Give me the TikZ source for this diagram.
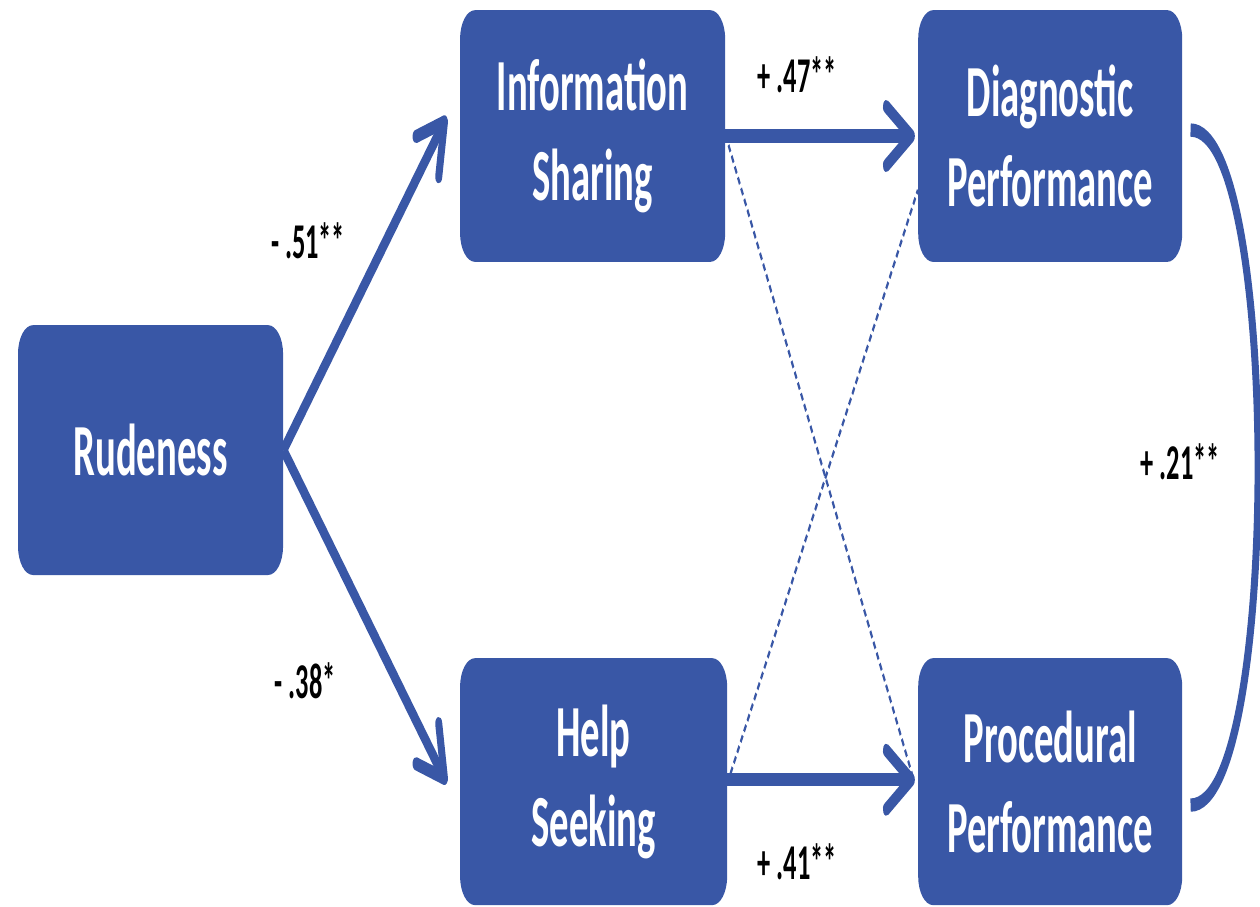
\documentclass[tikz,border=0pt]{standalone}
\usepackage{fontspec}
\setmainfont{Carlito}
\usetikzlibrary{arrows.meta}
\definecolor{boxblue}{RGB}{57,87,166}
\tikzset{
  box/.style={draw=none, fill=boxblue, rounded corners=0.3cm, text=white,
    font=\bfseries\fontsize{22}{26.9}\selectfont, align=center, inner sep=0pt},
  conn/.style={draw=boxblue, line width=0.14cm,
    -{Straight Barb[length=0.5cm,width=0.62cm,round]}},
  dashconn/.style={draw=boxblue, line width=0.04cm, dash pattern=on 0.08cm off 0.05cm},
  curveconn/.style={draw=boxblue, line width=0.14cm, line cap=butt},
  coef/.style={font=\bfseries\fontsize{15}{18}\selectfont, text=black, inner sep=0pt},
}
\begin{document}
\begin{tikzpicture}
\useasboundingbox (0,0) rectangle (25.2cm,-18.14cm);
\begin{scope}[transform canvas={yscale=1.9}, x=0.02cm, y=-0.0105263cm]
  % boxes
  \node[box, minimum width=5.3cm, minimum height=2.63cm] (rud) at (150.5,450) {Rudeness};
  \node[box, minimum width=5.3cm, minimum height=2.65cm] (infos) at (592.5,136) {Information\\Sharing};
  \node[box, minimum width=5.28cm, minimum height=2.65cm] (diag) at (1050,136) {Diagnostic\\Performance};
  \node[box, minimum width=5.34cm, minimum height=2.6cm] (help) at (593.5,781.5) {Help\\Seeking};
  \node[box, minimum width=5.28cm, minimum height=2.6cm] (proc) at (1050,781.5) {Procedural\\Performance};
  % dashed cross connectors
  \draw[dashconn] ([xshift=0.06cm,yshift=-0.095cm]infos.east) -- ([xshift=-0.1cm,yshift=0.05cm]proc.west);
  \draw[dashconn] ([xshift=0.06cm,yshift=0.084cm]help.east) -- ([yshift=-0.568cm]diag.west);
  % solid arrows
  \draw[conn, shorten >=0.38cm] (rud.east) -- ([yshift=0.478cm]infos.west);
  \draw[conn, shorten >=0.38cm] (rud.east) -- ([yshift=-0.295cm]help.west);
  \draw[conn, shorten >=0.06cm] (infos.east) -- (diag.west);
  \draw[conn, shorten >=0.06cm] ([yshift=0.02cm]help.east) -- ([yshift=0.02cm]proc.west);
  % correlation curve
  \draw[curveconn] ([xshift=0.16cm,yshift=0.063cm]diag.east)
    .. controls +(1.8cm,0) and +(1.8cm,0) .. ([xshift=0.16cm,yshift=-0.247cm]proc.east);
  % coefficients
  \node[coef] (c1) at (308,241) {- .51**};
  \node[coef] (c2) at (305,681) {- .38*};
  \node[coef] (c3) at (797,75) {+ .47**};
  \node[coef] (c4) at (797,862) {+ .41**};
  \node[coef] (c5) at (1180,462) {+ .21**};
\end{scope}
\end{tikzpicture}
\end{document}
